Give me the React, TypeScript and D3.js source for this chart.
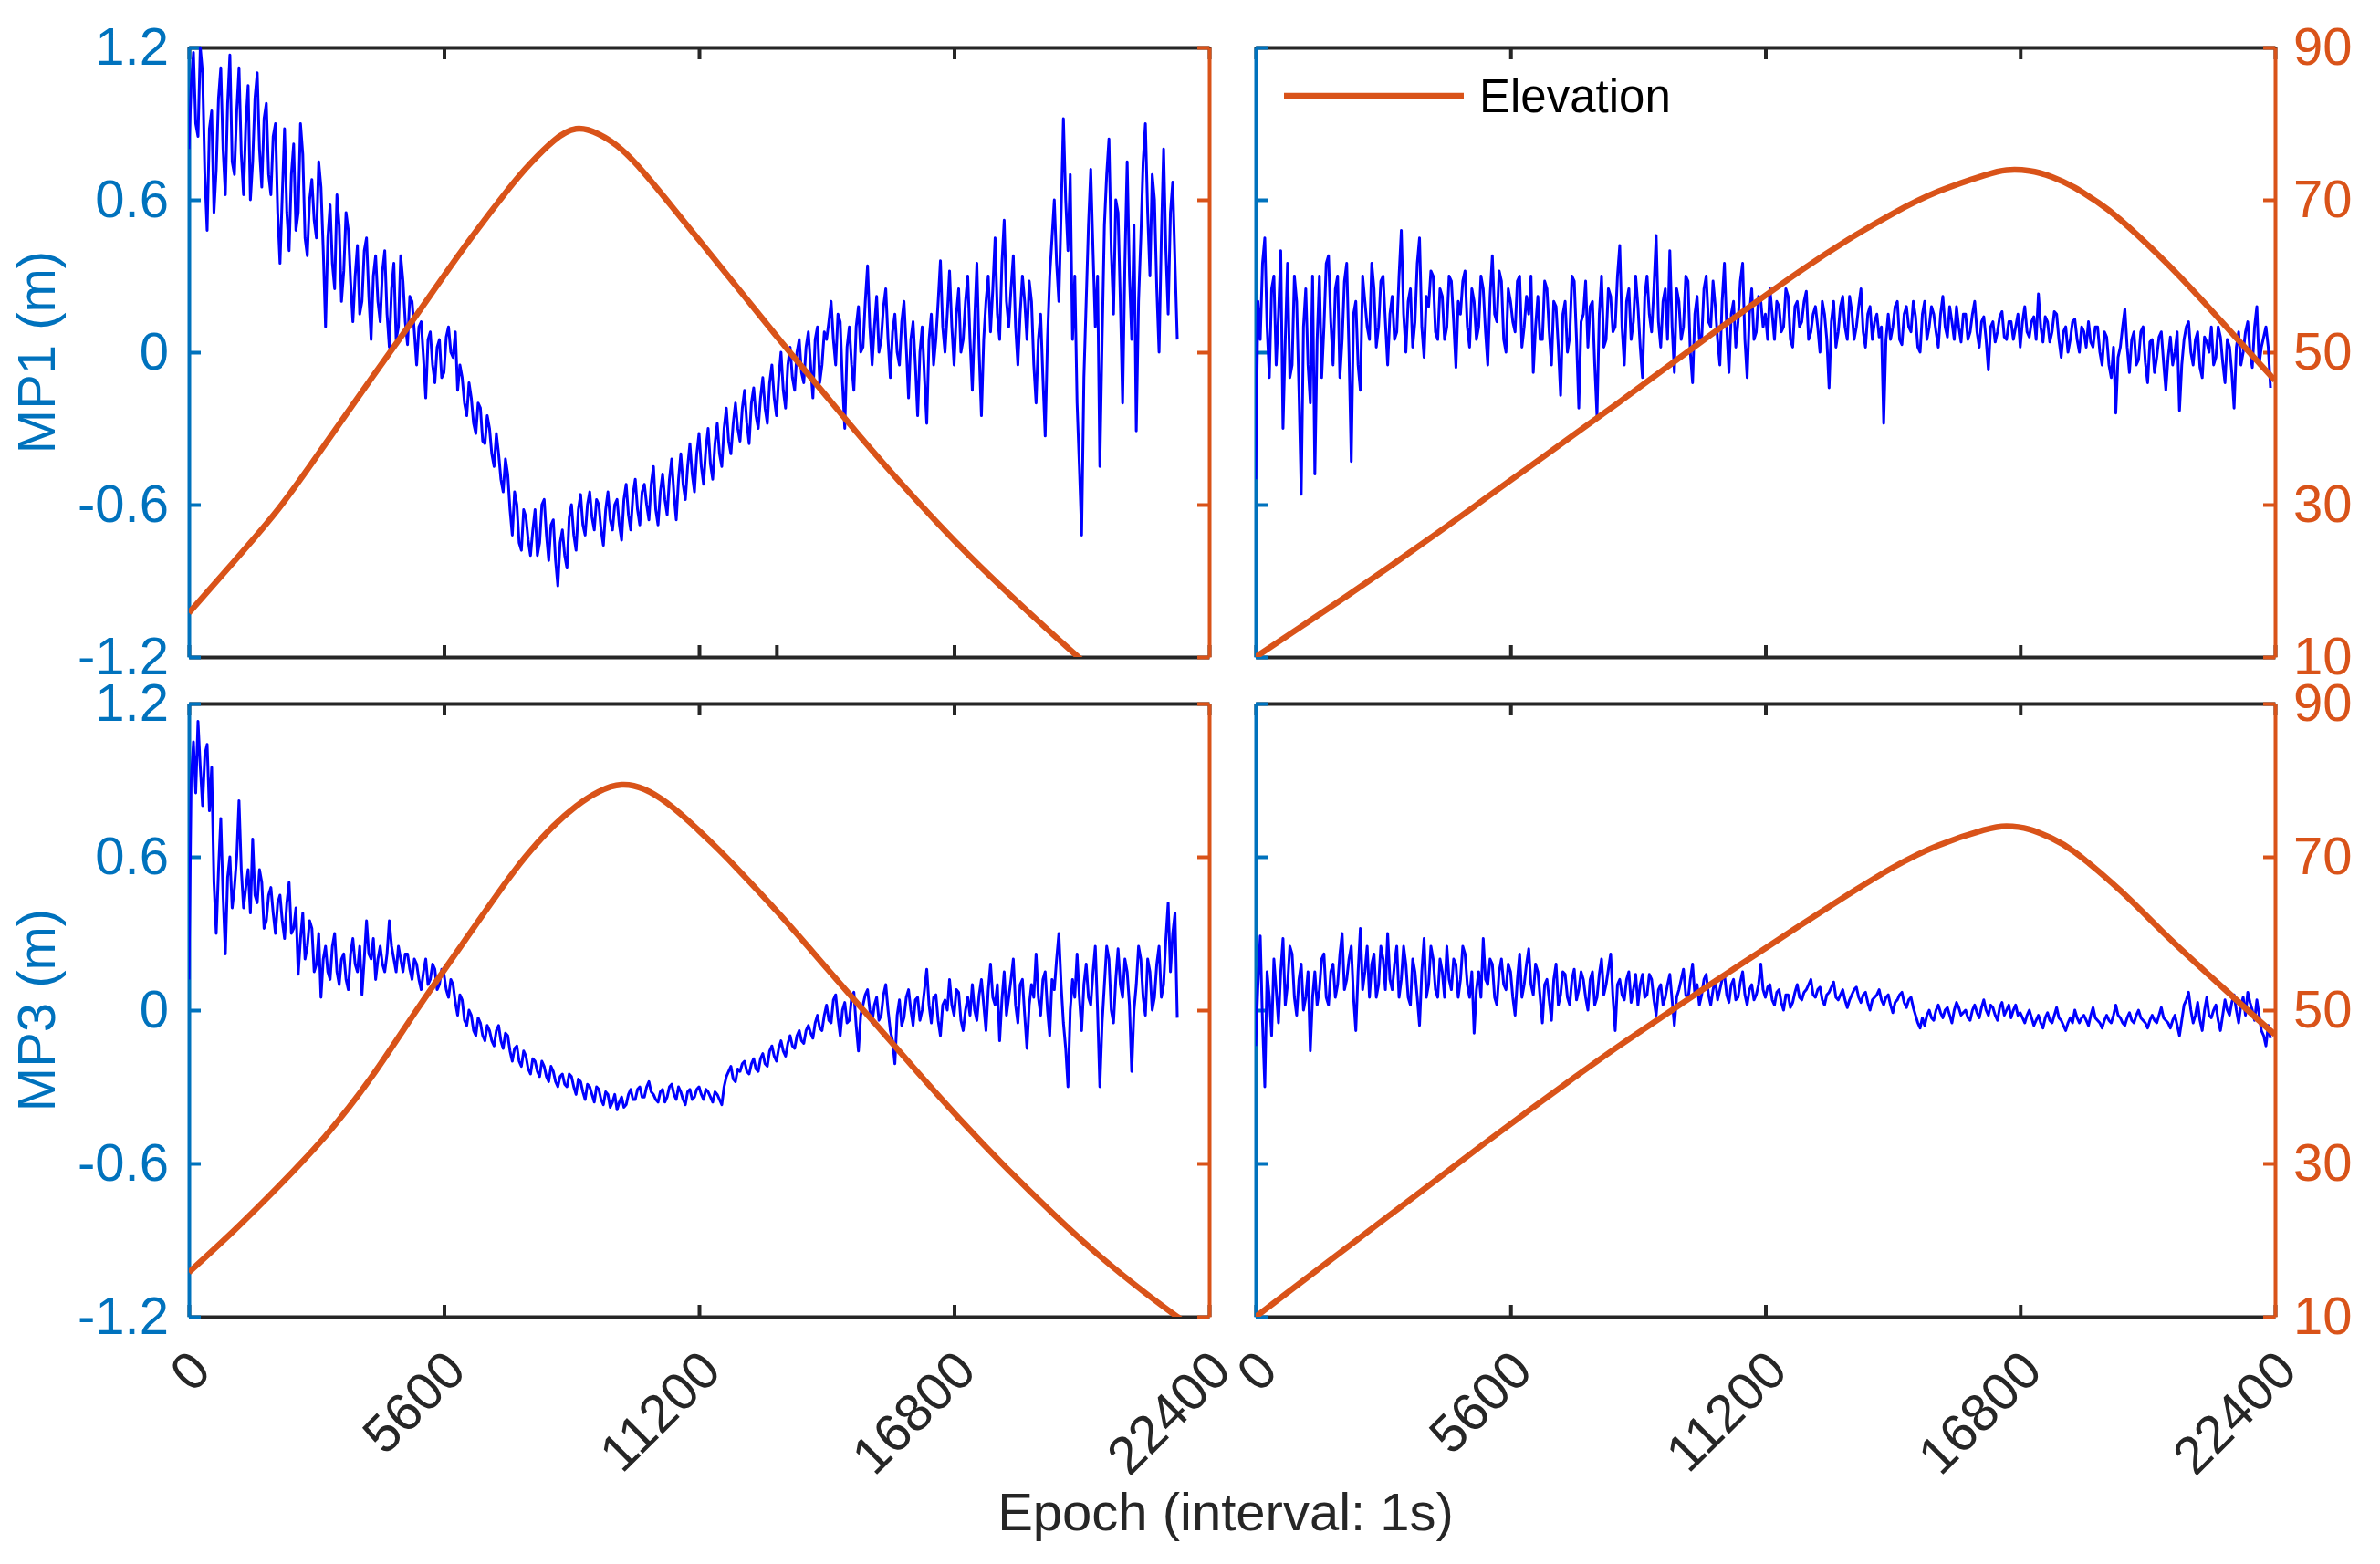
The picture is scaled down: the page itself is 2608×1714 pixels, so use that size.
import { useEffect, useRef } from 'react'
import * as d3 from 'd3'

// MP values are read every EPOCH_STEP s (main arrays, from epoch 0)
// and in between (half arrays, from epoch EPOCH_STEP / 2)
const EPOCH_STEP = 100
const xTicks = [0, 5600, 11200, 16800, 22400]
const extraTicksTopLeft = [12900]
const mpTicks = [-1.2, -0.6, 0, 0.6, 1.2]
const elevTicks = [10, 30, 50, 70, 90]

// MP1, left satellite
const mp1Left = [
  0.80, 1.18, 0.85, 1.10, 0.48, 0.95, 0.72, 1.12, 0.62, 1.17,
  0.70, 1.12, 0.62, 1.05, 0.75, 1.10, 0.65, 0.98, 0.62, 0.90,
  0.35, 0.88, 0.40, 0.82, 0.55, 0.78, 0.38, 0.68, 0.45, 0.65,
  0.10, 0.58, 0.25, 0.50, 0.32, 0.48, 0.12, 0.42, 0.20, 0.45,
  0.05, 0.38, 0.12, 0.40, 0.02, 0.35, 0.10, 0.28, 0.03, 0.20,
  -0.05, 0.12, -0.18, 0.08, -0.12, 0.05, -0.08, 0.10, -0.02, -0.15,
  -0.10, -0.25, -0.18, -0.32, -0.22, -0.36, -0.30, -0.45, -0.40, -0.55,
  -0.48, -0.72, -0.60, -0.78, -0.65, -0.80, -0.62, -0.75, -0.58, -0.82,
  -0.66, -0.92, -0.70, -0.85, -0.60, -0.78, -0.56, -0.72, -0.55, -0.70,
  -0.60, -0.76, -0.55, -0.70, -0.58, -0.74, -0.52, -0.70, -0.50, -0.68,
  -0.52, -0.66, -0.45, -0.68, -0.48, -0.64, -0.42, -0.66, -0.40, -0.58,
  -0.36, -0.55, -0.32, -0.52, -0.30, -0.50, -0.28, -0.45, -0.22, -0.40,
  -0.20, -0.35, -0.15, -0.36, -0.14, -0.30, -0.10, -0.28, -0.05, -0.25,
  0.00, -0.22, 0.02, -0.15, 0.05, -0.12, 0.08, -0.18, 0.10, -0.05,
  0.05, 0.20, -0.05, 0.12, -0.30, 0.10, -0.15, 0.18, 0.02, 0.34,
  -0.05, 0.22, 0.05, 0.25, -0.10, 0.15, -0.05, 0.20, -0.18, 0.12,
  -0.25, 0.10, -0.28, 0.15, 0.05, 0.36, 0.00, 0.32, -0.05, 0.25,
  0.05, 0.30, -0.15, 0.35, -0.25, 0.20, 0.08, 0.45, 0.05, 0.52,
  0.10, 0.38, -0.05, 0.30, 0.05, 0.20, -0.20, 0.15, -0.33, 0.30,
  0.60, 0.20, 0.92, 0.40, 0.05, -0.20, -0.72, 0.20, 0.72, 0.10,
  -0.45, 0.50, 0.84, 0.15, 0.55, -0.20, 0.75, 0.05, -0.31, 0.45,
  0.90, 0.30, 0.60, 0.00, 0.80, 0.15, 0.67, 0.05,
]
const mp1LeftHalf = [
  1.05, 0.90, 1.20, 0.70, 0.88, 0.55, 1.00, 0.80, 0.98, 0.75,
  0.95, 0.78, 0.90, 0.60, 1.00, 0.80, 0.92, 0.70, 0.85, 0.55,
  0.62, 0.55, 0.70, 0.48, 0.90, 0.45, 0.60, 0.52, 0.75, 0.40,
  0.45, 0.35, 0.62, 0.20, 0.55, 0.28, 0.30, 0.15, 0.40, 0.22,
  0.30, 0.20, 0.32, 0.15, 0.25, 0.05, 0.38, 0.12, 0.22, 0.08,
  0.10, -0.02, 0.05, -0.05, 0.02, -0.10, 0.06, 0.00, 0.08, -0.05,
  -0.20, -0.12, -0.28, -0.20, -0.35, -0.25, -0.40, -0.32, -0.50, -0.42,
  -0.62, -0.55, -0.75, -0.62, -0.74, -0.70, -0.80, -0.60, -0.72, -0.68,
  -0.82, -0.75, -0.80, -0.65, -0.72, -0.62, -0.68, -0.60, -0.65, -0.58,
  -0.70, -0.62, -0.66, -0.60, -0.68, -0.58, -0.64, -0.56, -0.62, -0.55,
  -0.60, -0.52, -0.62, -0.55, -0.58, -0.50, -0.56, -0.50, -0.52, -0.45,
  -0.48, -0.40, -0.45, -0.38, -0.44, -0.36, -0.40, -0.30, -0.35, -0.28,
  -0.30, -0.22, -0.28, -0.20, -0.25, -0.18, -0.22, -0.12, -0.18, -0.10,
  -0.15, -0.05, -0.10, 0.00, -0.08, 0.02, -0.05, 0.05, -0.12, 0.08,
  0.12, 0.05, 0.15, -0.12, 0.02, -0.05, 0.10, 0.00, 0.20, 0.10,
  0.10, 0.00, 0.18, 0.05, 0.08, 0.00, 0.12, 0.02, 0.05, -0.05,
  0.00, -0.10, 0.05, -0.05, 0.20, 0.10, 0.15, 0.10, 0.15, 0.00,
  0.20, 0.05, 0.12, 0.00, 0.05, 0.30, 0.25, 0.15, 0.35, 0.20,
  0.25, 0.10, 0.15, 0.20, 0.28, -0.05, 0.05, -0.10, 0.05, 0.45,
  0.35, 0.55, 0.60, 0.70, 0.30, -0.45, -0.10, 0.50, 0.40, 0.30,
  0.05, 0.70, 0.40, 0.60, 0.20, 0.35, 0.30, 0.50, 0.20, 0.75,
  0.55, 0.70, 0.25, 0.45, 0.40, 0.55, 0.35,
]

// MP1, right satellite
const mp1Right = [
  -0.50, 0.05, 0.45, -0.10, 0.30, 0.15, -0.30, 0.35, -0.05, 0.20,
  -0.56, 0.25, -0.20, -0.48, 0.30, 0.10, 0.38, -0.05, 0.30, 0.05,
  0.35, -0.43, 0.20, -0.15, 0.20, 0.05, 0.25, 0.10, 0.30, -0.05,
  0.22, 0.08, 0.48, 0.00, 0.25, 0.12, 0.45, -0.02, 0.18, 0.30,
  0.05, 0.22, 0.10, 0.28, -0.06, 0.15, 0.32, 0.02, 0.20, 0.10,
  0.25, -0.05, 0.38, 0.12, 0.28, 0.00, 0.20, 0.08, 0.30, 0.10,
  0.15, -0.08, 0.22, 0.05, 0.25, -0.05, 0.18, -0.17, 0.20, 0.06,
  0.28, -0.22, 0.15, 0.02, 0.20, -0.25, 0.30, 0.05, 0.22, 0.10,
  0.42, -0.05, 0.25, 0.12, 0.18, -0.10, 0.30, 0.08, 0.46, 0.02,
  0.25, 0.40, -0.08, 0.20, 0.10, 0.28, -0.12, 0.22, 0.05, 0.30,
  0.10, 0.18, -0.05, 0.35, -0.08, 0.20, 0.12, 0.35, -0.10, 0.25,
  0.08, 0.20, 0.15, 0.25, 0.05, 0.18, 0.10, 0.22, 0.02, 0.20,
  0.12, 0.24, 0.08, 0.18, 0.00, 0.15, -0.14, 0.20, 0.08, 0.22,
  0.05, 0.16, 0.10, 0.25, 0.02, 0.18, 0.12, 0.06, -0.28, 0.15,
  0.10, 0.20, 0.03, 0.18, 0.08, 0.14, 0.00, 0.20, 0.10, 0.15,
  0.02, 0.22, 0.06, 0.12, 0.18, 0.04, 0.15, 0.08, 0.20, 0.02,
  0.14, -0.07, 0.12, 0.08, 0.16, 0.05, 0.12, 0.10, 0.02, 0.18,
  0.06, 0.14, 0.23, 0.04, 0.12, 0.08, 0.15, -0.02, 0.10, 0.05,
  0.13, 0.00, 0.08, 0.12, 0.02, 0.10, -0.05, 0.06, -0.10, -0.24,
  0.02, 0.17, -0.08, 0.08, -0.03, 0.10, -0.12, 0.05, -0.02, 0.08,
  -0.15, 0.06, 0.00, -0.23, 0.05, 0.12, -0.05, 0.08, -0.10, 0.04,
  0.10, -0.02, 0.06, -0.12, 0.02, -0.22, 0.08, 0.00, 0.12, -0.06,
  0.18, 0.02, 0.10, -0.14,
]
const mp1RightHalf = [
  0.20, 0.35, 0.10, 0.25, -0.05, 0.40, 0.05, -0.10, 0.30, -0.15,
  0.10, -0.05, 0.30, 0.05, -0.10, 0.35, 0.12, 0.25, -0.10, 0.28,
  0.00, 0.15, -0.05, 0.30, 0.10, 0.35, 0.02, 0.28, 0.12, 0.15,
  0.05, 0.30, 0.15, 0.20, 0.02, 0.35, 0.10, 0.22, 0.32, 0.08,
  0.25, 0.05, 0.30, 0.12, 0.20, 0.28, 0.10, 0.25, 0.05, 0.30,
  0.08, 0.22, 0.15, 0.32, 0.05, 0.25, 0.12, 0.28, 0.02, 0.22,
  0.30, 0.10, 0.05, 0.28, 0.08, 0.20, 0.02, 0.15, 0.00, 0.30,
  0.05, 0.12, 0.28, 0.18, -0.05, 0.15, 0.02, 0.25, 0.08, 0.30,
  0.10, 0.20, 0.05, 0.30, 0.02, 0.22, 0.15, 0.25, 0.12, 0.20,
  0.05, 0.10, 0.25, 0.05, 0.30, 0.00, 0.15, 0.05, 0.25, 0.12,
  0.28, 0.05, 0.20, 0.10, 0.15, 0.02, 0.28, 0.05, 0.15, 0.05,
  0.22, 0.10, 0.05, 0.15, 0.20, 0.08, 0.25, 0.05, 0.18, 0.10,
  0.20, 0.05, 0.15, 0.10, 0.20, 0.05, 0.12, 0.02, 0.18, 0.10,
  0.22, 0.05, 0.18, 0.08, 0.15, 0.05, 0.15, 0.10, 0.05, 0.05,
  0.18, 0.05, 0.15, 0.10, 0.20, 0.02, 0.15, 0.05, 0.18, 0.08,
  0.15, 0.10, 0.18, 0.05, 0.10, 0.15, 0.05, 0.15, 0.08, 0.12,
  0.05, 0.10, 0.04, 0.14, 0.06, 0.12, 0.05, 0.15, 0.12, 0.08,
  0.12, 0.05, 0.10, 0.14, 0.04, 0.16, 0.05, 0.08, 0.00, 0.12,
  0.05, 0.10, 0.02, 0.04, 0.10, 0.00, 0.08, -0.05, 0.02, -0.02,
  0.10, 0.02, 0.05, -0.05, 0.08, -0.04, 0.04, -0.08, 0.06, -0.04,
  -0.02, -0.05, 0.08, -0.05, 0.10, 0.00, 0.05, -0.06, 0.06, 0.00,
  -0.05, 0.10, -0.04, 0.05, -0.08, 0.02, -0.05, 0.08, 0.00, 0.10,
  -0.05, 0.06, 0.02,
]

// MP3, left satellite
const mp3Left = [
  0.12, 1.05, 1.13, 0.80, 1.04, 0.95, 0.30, 0.75, 0.22, 0.60,
  0.48, 0.82, 0.40, 0.55, 0.67, 0.42, 0.50, 0.35, 0.48, 0.30,
  0.45, 0.28, 0.50, 0.32, 0.14, 0.38, 0.25, 0.32, 0.18, 0.05,
  0.25, 0.12, 0.30, 0.10, 0.22, 0.08, 0.28, 0.15, 0.06, 0.35,
  0.20, 0.12, 0.25, 0.15, 0.35, 0.20, 0.25, 0.15, 0.22, 0.12,
  0.18, 0.08, 0.20, 0.12, 0.16, 0.10, 0.14, 0.05, 0.10, -0.02,
  0.04, -0.06, -0.02, -0.10, -0.05, -0.12, -0.08, -0.14, -0.06, -0.15,
  -0.10, -0.20, -0.14, -0.22, -0.18, -0.25, -0.20, -0.26, -0.22, -0.28,
  -0.24, -0.30, -0.25, -0.30, -0.26, -0.33, -0.28, -0.35, -0.30, -0.36,
  -0.31, -0.37, -0.33, -0.36, -0.39, -0.34, -0.37, -0.31, -0.35, -0.30,
  -0.34, -0.28, -0.33, -0.36, -0.31, -0.34, -0.29, -0.35, -0.32, -0.37,
  -0.31, -0.34, -0.30, -0.35, -0.32, -0.36, -0.33, -0.37, -0.26, -0.22,
  -0.28, -0.24, -0.20, -0.25, -0.19, -0.24, -0.17, -0.22, -0.14, -0.20,
  -0.12, -0.18, -0.10, -0.15, -0.08, -0.13, -0.06, -0.11, -0.02, -0.08,
  0.02, -0.05, 0.06, -0.10, 0.03, -0.04, 0.07, -0.16, 0.02, 0.08,
  -0.05, 0.05, -0.02, 0.10, -0.08, -0.21, 0.04, -0.03, 0.08, -0.06,
  0.05, 0.00, 0.16, -0.05, 0.06, -0.10, 0.04, 0.12, -0.02, 0.07,
  -0.08, 0.05, 0.10, -0.04, 0.12, -0.08, 0.18, 0.02, -0.12, 0.15,
  0.05, 0.20, -0.05, 0.12, -0.15, 0.10, 0.22, -0.02, 0.15, -0.10,
  0.08, 0.30, -0.05, -0.30, 0.12, 0.22, -0.08, 0.18, 0.02, 0.25,
  -0.30, 0.10, 0.20, -0.05, 0.24, 0.05, 0.15, -0.24, 0.10, 0.20,
  -0.02, 0.15, 0.05, 0.25, 0.10, 0.42, 0.30, -0.03,
]
const mp3LeftHalf = [
  0.90, 0.85, 0.95, 1.00, 0.78, 0.50, 0.55, 0.45, 0.52, 0.40,
  0.60, 0.55, 0.48, 0.38, 0.45, 0.55, 0.32, 0.45, 0.38, 0.42,
  0.35, 0.42, 0.30, 0.40, 0.28, 0.20, 0.35, 0.15, 0.30, 0.20,
  0.15, 0.25, 0.15, 0.20, 0.12, 0.22, 0.18, 0.25, 0.20, 0.22,
  0.28, 0.20, 0.18, 0.22, 0.25, 0.15, 0.20, 0.22, 0.16, 0.20,
  0.12, 0.15, 0.10, 0.18, 0.08, 0.16, 0.08, 0.12, 0.03, 0.06,
  -0.04, 0.00, -0.08, -0.03, -0.10, -0.06, -0.12, -0.08, -0.12, -0.09,
  -0.16, -0.15, -0.20, -0.16, -0.23, -0.19, -0.24, -0.20, -0.26, -0.22,
  -0.28, -0.26, -0.29, -0.25, -0.30, -0.27, -0.32, -0.29, -0.33, -0.30,
  -0.35, -0.32, -0.38, -0.33, -0.36, -0.38, -0.33, -0.35, -0.31, -0.34,
  -0.30, -0.32, -0.35, -0.32, -0.36, -0.30, -0.33, -0.30, -0.35, -0.32,
  -0.35, -0.31, -0.33, -0.31, -0.34, -0.32, -0.35, -0.30, -0.24, -0.27,
  -0.23, -0.21, -0.24, -0.21, -0.23, -0.19, -0.21, -0.16, -0.18, -0.15,
  -0.16, -0.13, -0.14, -0.10, -0.12, -0.08, -0.09, -0.05, -0.07, -0.02,
  -0.04, 0.04, -0.03, 0.00, -0.05, 0.05, -0.06, -0.02, 0.06, 0.00,
  0.02, -0.04, 0.06, 0.00, -0.12, -0.02, -0.06, 0.05, 0.00, 0.04,
  -0.04, 0.08, 0.02, 0.05, -0.04, 0.02, 0.00, 0.02, 0.08, -0.04,
  0.00, -0.02, 0.00, 0.06, 0.02, 0.08, 0.05, 0.10, 0.04, -0.02,
  0.12, 0.02, 0.10, -0.02, 0.02, 0.05, 0.05, 0.12, 0.00, 0.12,
  0.20, 0.10, -0.15, 0.00, 0.05, 0.05, 0.10, 0.05, 0.15, 0.00,
  -0.05, 0.25, 0.00, 0.12, 0.10, 0.20, 0.02, 0.00, 0.25, 0.05,
  0.20, 0.00, 0.18, 0.05, 0.28, 0.15, 0.38,
]

// MP3, right satellite
const mp3Right = [
  -0.14, 0.29, -0.30, 0.05, 0.20, -0.05, 0.28, 0.10, 0.22, -0.02,
  0.18, 0.05, -0.16, 0.15, 0.08, 0.22, 0.02, 0.18, 0.10, 0.30,
  0.12, 0.25, -0.08, 0.32, 0.15, 0.05, 0.22, 0.10, 0.20, 0.30,
  0.08, 0.25, 0.12, 0.18, 0.02, 0.15, -0.06, 0.28, 0.10, 0.20,
  0.05, 0.15, 0.25, 0.08, 0.18, 0.12, 0.22, 0.05, -0.09, 0.15,
  0.28, 0.10, 0.18, 0.02, 0.20, 0.08, 0.15, -0.02, 0.22, 0.10,
  0.24, 0.06, 0.15, -0.05, 0.12, -0.04, 0.18, 0.06, 0.14, 0.02,
  0.16, 0.08, 0.12, 0.00, 0.15, 0.05, 0.20, 0.10, 0.22, -0.08,
  0.12, 0.04, 0.15, 0.08, 0.02, 0.14, 0.06, 0.12, -0.02, 0.10,
  0.05, 0.14, -0.06, 0.08, 0.16, 0.04, 0.18, 0.10, 0.06, 0.14,
  0.02, 0.12, 0.08, 0.14, 0.03, 0.12, 0.05, 0.15, 0.02, 0.10,
  0.06, 0.18, 0.05, 0.10, 0.02, 0.08, 0.00, 0.06, 0.03, 0.10,
  0.04, 0.08, 0.12, 0.05, 0.09, 0.02, 0.07, 0.11, 0.04, 0.08,
  0.01, 0.06, 0.09, 0.03, 0.07, 0.00, 0.05, 0.08, 0.02, 0.06,
  -0.01, 0.04, 0.07, 0.01, 0.05, -0.02, -0.07, -0.06, 0.00, -0.04,
  0.02, -0.03, 0.01, -0.05, 0.03, -0.02, 0.00, -0.04, 0.02, -0.03,
  0.04, -0.02, 0.01, -0.04, 0.03, 0.00, -0.03, 0.02, -0.01, -0.05,
  0.00, -0.06, -0.02, -0.07, -0.01, -0.05, 0.01, -0.04, -0.08, -0.03,
  0.00, -0.05, -0.02, -0.06, 0.01, -0.04, -0.07, -0.02, -0.05, 0.02,
  -0.03, -0.06, -0.01, -0.05, 0.00, -0.04, -0.07, -0.02, -0.05, 0.01,
  -0.04, -0.07, -0.02, -0.10, 0.02, 0.07, -0.05, 0.03, -0.08, 0.05,
  -0.03, 0.02, -0.08, 0.04, -0.02, 0.06, -0.05, 0.05, 0.07, 0.00,
  0.04, -0.08, -0.14, -0.11,
]
const mp3RightHalf = [
  0.10, -0.05, 0.15, -0.10, 0.08, 0.15, 0.02, 0.25, 0.05, 0.12,
  0.00, 0.15, 0.05, 0.02, 0.20, 0.05, 0.15, 0.05, 0.22, 0.08,
  0.20, 0.05, 0.15, 0.08, 0.25, 0.18, 0.05, 0.25, 0.08, 0.12,
  0.18, 0.05, 0.25, 0.05, 0.20, 0.05, 0.15, 0.05, 0.25, 0.08,
  0.20, 0.05, 0.12, 0.20, 0.05, 0.25, 0.10, 0.15, 0.08, 0.05,
  0.12, 0.20, 0.05, 0.15, 0.10, 0.18, 0.05, 0.12, 0.05, 0.18,
  0.10, 0.18, 0.05, 0.10, 0.04, 0.12, 0.02, 0.15, 0.05, 0.12,
  0.04, 0.15, 0.05, 0.12, 0.02, 0.14, 0.06, 0.16, 0.05, 0.10,
  0.06, 0.12, 0.03, 0.14, 0.10, 0.05, 0.14, 0.04, 0.08, 0.02,
  0.10, 0.04, 0.05, 0.12, 0.06, 0.12, 0.06, 0.02, 0.12, 0.06,
  0.08, 0.04, 0.12, 0.06, 0.10, 0.04, 0.11, 0.06, 0.08, 0.04,
  0.10, 0.08, 0.09, 0.04, 0.07, 0.03, 0.06, 0.01, 0.07, 0.05,
  0.07, 0.10, 0.06, 0.08, 0.04, 0.06, 0.09, 0.05, 0.06, 0.04,
  0.04, 0.08, 0.05, 0.06, 0.03, 0.04, 0.06, 0.04, 0.05, 0.02,
  0.03, 0.06, 0.03, 0.04, 0.01, -0.05, -0.03, -0.02, -0.03, 0.00,
  -0.01, 0.00, -0.02, 0.00, 0.01, -0.01, -0.03, 0.00, -0.01, 0.01,
  0.00, 0.02, -0.02, 0.01, -0.02, 0.02, 0.00, -0.02, -0.03, -0.02,
  -0.03, -0.04, -0.05, -0.03, -0.04, -0.02, -0.03, -0.06, -0.05, -0.05,
  -0.03, -0.03, -0.04, -0.02, -0.03, -0.05, -0.04, -0.04, -0.02, -0.02,
  -0.05, -0.03, -0.04, -0.02, -0.03, -0.05, -0.04, -0.04, -0.02, -0.03,
  -0.05, -0.04, -0.06, -0.04, 0.04, 0.00, -0.02, -0.04, 0.00, -0.02,
  0.00, -0.04, -0.02, 0.00, 0.03, 0.00, 0.02, -0.02, 0.03, -0.04,
  -0.02, -0.10, -0.06,
]

// elevation (deg), [epoch, value]
const elevTopLeft: [number, number][] = [
  [0, 15.8], [1000, 22.6], [2000, 29.7], [3000, 38.0], [4000, 46.5],
  [5000, 54.9], [6000, 63.4], [7000, 71.3], [7500, 74.8], [8000, 77.7],
  [8500, 79.3], [9000, 78.6], [9500, 76.6], [10000, 73.5], [10500, 69.9],
  [11000, 66.2], [12000, 58.8], [13000, 51.4], [14000, 44.2], [15000, 37.1],
  [16000, 30.4], [17000, 24.1], [18000, 18.3], [19000, 12.8], [20000, 7.5],
]
const elevTopRight: [number, number][] = [
  [0, 10.0], [1000, 14.0], [2000, 18.0], [3000, 22.1], [4000, 26.3],
  [5000, 30.6], [6000, 34.9], [7000, 39.2], [8000, 43.5], [9000, 47.9],
  [10000, 52.3], [11000, 56.6], [12000, 60.8], [13000, 64.7], [14000, 68.2],
  [15000, 71.1], [16000, 73.2], [16500, 73.9], [17000, 73.8], [17500, 73.0],
  [18000, 71.6], [18500, 69.7], [19000, 67.4], [20000, 61.8], [21000, 55.5],
  [22000, 48.9], [22400, 46.3],
]
const elevBottomLeft: [number, number][] = [
  [0, 15.8], [1000, 21.3], [2000, 27.2], [3000, 33.6], [4000, 41.2],
  [5000, 50.0], [6000, 58.6], [7000, 67.0], [7500, 70.8], [8000, 74.0],
  [8500, 76.6], [9000, 78.5], [9500, 79.4], [10000, 78.8], [10500, 77.0],
  [11000, 74.5], [11500, 71.7], [12000, 68.7], [13000, 62.3], [14000, 55.5],
  [15000, 48.7], [16000, 41.9], [17000, 35.3], [18000, 29.1], [19000, 23.3],
  [20000, 17.9], [21000, 13.1], [21700, 10.0], [22000, 8.7],
]
const elevBottomRight: [number, number][] = [
  [0, 10.0], [1000, 14.5], [2000, 19.0], [3000, 23.5], [4000, 28.0],
  [5000, 32.5], [6000, 36.9], [7000, 41.2], [8000, 45.4], [9000, 49.4],
  [10000, 53.4], [11000, 57.3], [12000, 61.2], [13000, 65.0], [14000, 68.6],
  [15000, 71.5], [16000, 73.5], [16500, 74.0], [17000, 73.6], [17500, 72.4],
  [18000, 70.6], [19000, 65.6], [20000, 59.8], [21000, 54.3], [22000, 48.9],
  [22400, 46.8],
]

const BLUE_AXIS = '#0072BD'
const ORANGE = '#D95319'
const DARK = '#262626'
const FONT = "'Liberation Sans', Arial, Helvetica, sans-serif"

const panels = [
  { id: 'tl', x0: 207, x1: 1325, y0: 52, y1: 720, mp: mp1Left, mpHalf: mp1LeftHalf, elev: elevTopLeft, yLabel: 'MP1 (m)', col: 0, row: 0 },
  { id: 'tr', x0: 1376, x1: 2493, y0: 52, y1: 720, mp: mp1Right, mpHalf: mp1RightHalf, elev: elevTopRight, yLabel: '', col: 1, row: 0 },
  { id: 'bl', x0: 207, x1: 1325, y0: 771, y1: 1443, mp: mp3Left, mpHalf: mp3LeftHalf, elev: elevBottomLeft, yLabel: 'MP3 (m)', col: 0, row: 1 },
  { id: 'br', x0: 1376, x1: 2493, y0: 771, y1: 1443, mp: mp3Right, mpHalf: mp3RightHalf, elev: elevBottomRight, yLabel: '', col: 1, row: 1 },
]

// put the main and in-between readings back in epoch order
function toPoints(main: number[], half: number[]): [number, number][] {
  const pts: [number, number][] = []
  main.forEach((v, i) => {
    pts.push([i * EPOCH_STEP, v])
    if (i < half.length) pts.push([i * EPOCH_STEP + EPOCH_STEP / 2, half[i]])
  })
  return pts
}

export default function App() {
  const svgRef = useRef<SVGSVGElement>(null)

  useEffect(() => {
    if (!svgRef.current) return
    const svg = d3.select(svgRef.current)
    svg.selectAll('*').remove()

    svg.append('rect').attr('width', 2608).attr('height', 1714).attr('fill', '#fff')

    panels.forEach((p) => {
      const w = p.x1 - p.x0
      const h = p.y1 - p.y0
      const g = svg.append('g').attr('transform', `translate(${p.x0},${p.y0})`)

      const x = d3.scaleLinear().domain([0, 22400]).range([0, w])
      const yL = d3.scaleLinear().domain([-1.2, 1.2]).range([h, 0])
      const yR = d3.scaleLinear().domain([10, 90]).range([h, 0])

      g.append('clipPath')
        .attr('id', `clip-${p.id}`)
        .append('rect')
        .attr('width', w)
        .attr('height', h)

      const styleAxis = (sel: any, color: string) => {
        sel.attr('font-family', FONT).attr('font-size', 58)
        sel.select('.domain').attr('stroke', color).attr('stroke-width', 4)
        sel.selectAll('.tick line').attr('stroke', color).attr('stroke-width', 4)
        sel.selectAll('.tick text').attr('fill', color)
      }

      // top
      const topAxis = g.append('g').call(
        d3.axisTop(x).tickValues(xTicks).tickSizeInner(-13).tickSizeOuter(0).tickFormat(() => '')
      )
      styleAxis(topAxis, DARK)

      // bottom
      const bottomValues = p.id === 'tl' ? [...xTicks, ...extraTicksTopLeft] : xTicks
      const bottomAxis = g
        .append('g')
        .attr('transform', `translate(0,${h})`)
        .call(
          d3
            .axisBottom(x)
            .tickValues(bottomValues)
            .tickSizeInner(-13)
            .tickSizeOuter(0)
            .tickFormat((d) => (p.row === 1 ? String(d) : ''))
        )
      styleAxis(bottomAxis, DARK)
      bottomAxis
        .selectAll('.tick text')
        .attr('y', 0)
        .attr('dy', 0)
        .attr('text-anchor', 'end')
        .attr('transform', 'translate(26,62) rotate(-45)')

      // left (MP)
      const leftAxis = g.append('g').call(
        d3
          .axisLeft(yL)
          .tickValues(mpTicks)
          .tickSizeInner(-13)
          .tickSizeOuter(0)
          .tickPadding(22)
          .tickFormat((d) => (p.col === 0 ? String(d) : ''))
      )
      styleAxis(leftAxis, BLUE_AXIS)

      // right (elevation)
      const rightAxis = g
        .append('g')
        .attr('transform', `translate(${w},0)`)
        .call(
          d3
            .axisRight(yR)
            .tickValues(elevTicks)
            .tickSizeInner(-13)
            .tickSizeOuter(0)
            .tickPadding(20)
            .tickFormat((d) => (p.col === 1 ? String(d) : ''))
        )
      styleAxis(rightAxis, ORANGE)

      // MP series
      const mpLine = d3
        .line<[number, number]>()
        .x((d) => x(d[0]))
        .y((d) => yL(d[1]))
      g.append('path')
        .datum(toPoints(p.mp, p.mpHalf))
        .attr('clip-path', `url(#clip-${p.id})`)
        .attr('fill', 'none')
        .attr('stroke', '#0000FF')
        .attr('stroke-width', 3)
        .attr('stroke-linejoin', 'round')
        .attr('d', mpLine)

      // elevation
      const elevLine = d3
        .line<[number, number]>()
        .x((d) => x(d[0]))
        .y((d) => yR(d[1]))
        .curve(d3.curveNatural)
      g.append('path')
        .datum(p.elev)
        .attr('clip-path', `url(#clip-${p.id})`)
        .attr('fill', 'none')
        .attr('stroke', ORANGE)
        .attr('stroke-width', 6.5)
        .attr('d', elevLine)

      if (p.yLabel) {
        svg
          .append('text')
          .attr('transform', `translate(60,${(p.y0 + p.y1) / 2}) rotate(-90)`)
          .attr('text-anchor', 'middle')
          .attr('font-family', FONT)
          .attr('font-size', 58)
          .attr('fill', BLUE_AXIS)
          .text(p.yLabel)
      }
    })

    // legend
    svg
      .append('line')
      .attr('x1', 1407)
      .attr('x2', 1604)
      .attr('y1', 105)
      .attr('y2', 105)
      .attr('stroke', ORANGE)
      .attr('stroke-width', 6.5)
    svg
      .append('text')
      .attr('x', 1621)
      .attr('y', 123)
      .attr('font-family', FONT)
      .attr('font-size', 51)
      .attr('fill', '#000')
      .text('Elevation')

    // x label
    svg
      .append('text')
      .attr('x', 1343)
      .attr('y', 1677)
      .attr('text-anchor', 'middle')
      .attr('font-family', FONT)
      .attr('font-size', 58)
      .attr('fill', DARK)
      .text('Epoch (interval: 1s)')
  }, [])

  return (
    <svg
      ref={svgRef}
      width={2608}
      height={1714}
      style={{ position: 'absolute', left: 0, top: 0, display: 'block' }}
    ></svg>
  )
}
